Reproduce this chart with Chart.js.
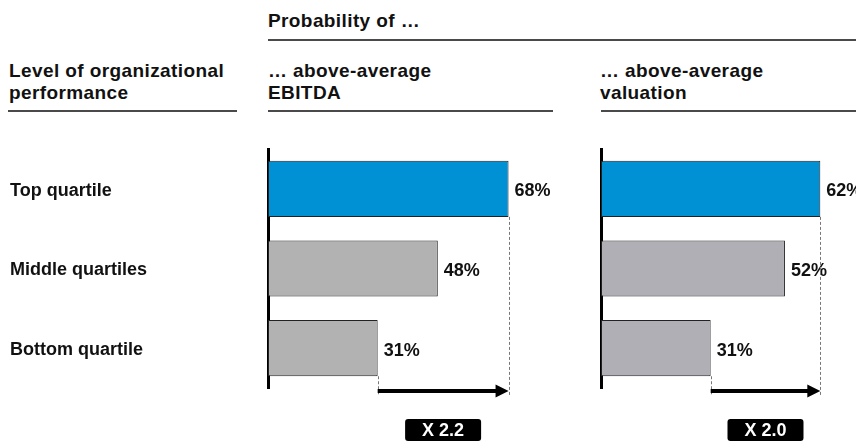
<!DOCTYPE html>
<html>
<head>
<meta charset="utf-8">
<script src="https://cdn.jsdelivr.net/npm/chart.js@4.4.0/dist/chart.umd.min.js"></script>
<style>
  html, body { margin: 0; padding: 0; background: #fff; overflow: hidden; width: 856px; height: 443px; }
  body { position: relative; font-family: Arial, "Liberation Sans", Helvetica, sans-serif; font-weight: bold; color: #111; }
  .t { position: absolute; font-size: 19px; line-height: 22px; letter-spacing: 0.4px; white-space: nowrap; }
  .rule { position: absolute; height: 2px; background: #4a4a4a; }
  canvas { position: absolute; top: 0; }
</style>
</head>
<body>
<div class="t" style="left:268px; top:10px;">Probability of …</div>
<div class="rule" style="left:268px; top:39px; width:588px;"></div>

<div class="t" style="left:9px; top:60px;">Level of organizational<br>performance</div>
<div class="t" style="left:268px; top:60px;">… above-average<br>EBITDA</div>
<div class="t" style="left:600px; top:60px;">… above-average<br>valuation</div>
<div class="rule" style="left:8px; top:110px; width:229px;"></div>
<div class="rule" style="left:268px; top:110px; width:285px;"></div>
<div class="rule" style="left:601px; top:110px; width:255px;"></div>

<canvas id="c1" width="590" height="443" style="left:0px;"></canvas>
<canvas id="c2" width="310" height="443" style="left:590px;"></canvas>

<script>
// ===== data =====
const categories = ['Top quartile', 'Middle quartiles', 'Bottom quartile'];
const ebitda = [68, 48, 31];
const valuation = [62, 52, 31];
const multipliers = ['X 2.2', 'X 2.0'];

const FONT = 'Arial, "Liberation Sans", Helvetica, sans-serif';

// value labels, dashed guides, arrow and the black multiplier box
const annotate = {
    id: 'annotate',
    afterDatasetsDraw(chart, args, opts) {
        const ctx = chart.ctx;
        const bars = chart.getDatasetMeta(0).data;
        const values = chart.data.datasets[0].data;
        ctx.save();
        ctx.font = 'bold 18px ' + FONT;
        ctx.fillStyle = '#111';
        ctx.textBaseline = 'middle';
        ctx.textAlign = 'left';
        bars.forEach((b, i) => ctx.fillText(values[i] + '%', b.x + 6, b.y + 2.5));

        const top = bars[0], low = bars[bars.length - 1];
        const yArrow = chart.chartArea.bottom + 3;
        ctx.setLineDash([3, 2]);
        ctx.strokeStyle = '#777';
        ctx.lineWidth = 1;
        [[top.x, top.y + top.height / 2], [low.x, low.y + low.height / 2]].forEach(([x, y]) => {
            ctx.beginPath();
            ctx.moveTo(Math.round(x) + 0.5, y);
            ctx.lineTo(Math.round(x) + 0.5, yArrow + 5);
            ctx.stroke();
        });
        ctx.setLineDash([]);

        // arrow
        ctx.fillStyle = '#000';
        ctx.fillRect(low.x, yArrow - 2, top.x - low.x - 12, 4);
        ctx.beginPath();
        ctx.moveTo(top.x - 13, yArrow - 6.5);
        ctx.lineTo(top.x, yArrow);
        ctx.lineTo(top.x - 13, yArrow + 6.5);
        ctx.closePath();
        ctx.fill();

        // box
        const cx = (low.x + top.x) / 2;
        ctx.beginPath();
        ctx.roundRect(cx - 38, 419, 76, 22, 3);
        ctx.fill();
        ctx.fillStyle = '#fff';
        ctx.textAlign = 'center';
        ctx.fillText(opts.label, cx, 431);
        ctx.restore();
    }
};

function makeChart(id, values, grey, label, showLabels) {
    return new Chart(document.getElementById(id), {
        type: 'bar',
        data: {
            labels: categories,
            datasets: [{
                data: values,
                backgroundColor: ['#0091d5', grey, grey],
                borderColor: '#222',
                borderWidth: 1,
                borderSkipped: false,
                barPercentage: 0.705,
                categoryPercentage: 1
            }]
        },
        options: {
            indexAxis: 'y',
            responsive: false,
            animation: false,
            layout: {
                padding: showLabels
                    ? { left: 10, right: 39, top: 149, bottom: 55 }
                    : { left: 11, right: 16, top: 149, bottom: 55 }
            },
            scales: {
                x: { display: false, min: 0, max: 80 },
                y: {
                    grid: { display: false },
                    border: { display: true, color: '#000', width: 3 },
                    ticks: {
                        display: showLabels,
                        crossAlign: 'far',
                        labelOffset: 2,
                        color: '#111',
                        font: { family: FONT, size: 18, weight: 'bold' }
                    },
                    afterFit: function(scale) { scale.width = showLabels ? 258 : 0; }
                }
            },
            plugins: {
                legend: { display: false },
                tooltip: { enabled: false },
                annotate: { label: label }
            }
        },
        plugins: [annotate]
    });
}

makeChart('c1', ebitda, '#b2b2b2', multipliers[0], true);
makeChart('c2', valuation, '#b0afb5', multipliers[1], false);
</script>
</body>
</html>
